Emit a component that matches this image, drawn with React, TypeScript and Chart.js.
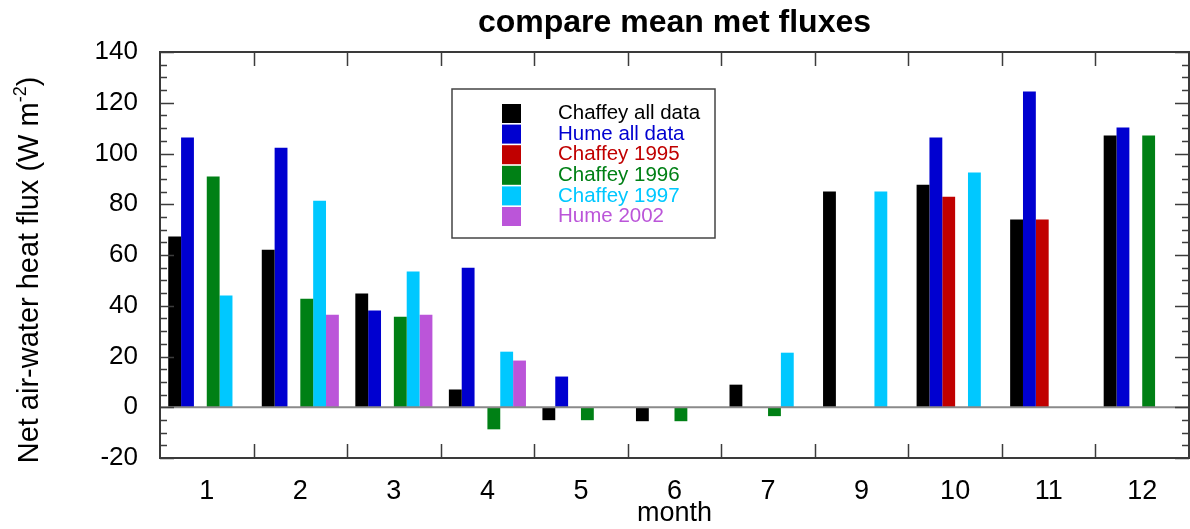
import React, { useEffect, useRef } from "react";
import { Chart, registerables } from "chart.js";

Chart.register(...registerables);

const months = ["1", "2", "3", "4", "5", "6", "7", "9", "10", "11", "12"];
const seriesNames = ["Chaffey all data", "Hume all data", "Chaffey 1995", "Chaffey 1996", "Chaffey 1997", "Hume 2002"];
const seriesColors = ["#000000", "#0000d0", "#c00000", "#008015", "#00c8ff", "#bb55d9"];

const chaffeyAll = [67.3, 62.1, 44.8, 7.0, -5.1, -5.5, 8.9, 85.0, 87.7, 74.0, 107.1];
const humeAll = [106.3, 102.3, 38.1, 55.0, 12.1, null, null, null, 106.3, 124.4, 110.2];
const chaffey1995 = [null, null, null, null, null, null, null, null, 83.0, 74.0, null];
const chaffey1996 = [90.9, 42.8, 35.7, -8.7, -5.1, -5.5, -3.5, null, null, null, 107.1];
const chaffey1997 = [44.0, 81.4, 53.5, 21.9, null, null, 21.5, 85.0, 92.5, null, null];
const hume2002 = [null, 36.5, 36.5, 18.4, null, null, null, null, null, null, null];

const yMin = -20;
const yMax = 140;
const yStep = 20;
const yMinorStep = 5;

const titleText = "compare mean met fluxes";
const xTitle = "month";
const yTitleMain = "Net air-water heat flux (W m";
const yTitleSup = "-2";
const yTitleEnd = ")";

const FONT = "'Liberation Sans', Arial, sans-serif";

const decorPlugin = {
  id: "decor",
  afterDatasetsDraw(chart: any) {
    const { ctx, chartArea } = chart;
    const y = chart.scales.y;
    const x = chart.scales.x;
    const { left, right, top, bottom } = chartArea;
    ctx.save();
    // zero line
    const y0 = y.getPixelForValue(0);
    ctx.strokeStyle = "#8a8a8a";
    ctx.lineWidth = 2;
    ctx.beginPath();
    ctx.moveTo(left, y0);
    ctx.lineTo(right, y0);
    ctx.stroke();

    // y ticks (major + minor) on both sides
    ctx.strokeStyle = "#3c3c3c";
    ctx.lineWidth = 1.5;
    for (let v = yMin; v <= yMax; v += yMinorStep) {
      const py = Math.round(y.getPixelForValue(v)) + 0.5;
      const len = v % yStep === 0 ? 14 : 7;
      ctx.beginPath();
      ctx.moveTo(left, py);
      ctx.lineTo(left + len, py);
      ctx.moveTo(right, py);
      ctx.lineTo(right - len, py);
      ctx.stroke();
    }
    // x ticks at category boundaries, top and bottom
    const n = months.length;
    for (let i = 0; i < n - 1; i++) {
      const px = Math.round((x.getPixelForTick(i) + x.getPixelForTick(i + 1)) / 2) + 0.5;
      ctx.beginPath();
      ctx.moveTo(px, top);
      ctx.lineTo(px, top + 14);
      ctx.moveTo(px, bottom);
      ctx.lineTo(px, bottom - 14);
      ctx.stroke();
    }
    // border
    ctx.strokeStyle = "#3a3a3a";
    ctx.lineWidth = 2;
    ctx.strokeRect(left, top, right - left, bottom - top);

    // legend
    const lx = 452, ly = 89, lw = 263, lh = 149;
    ctx.fillStyle = "#ffffff";
    ctx.fillRect(lx, ly, lw, lh);
    ctx.strokeStyle = "#444444";
    ctx.lineWidth = 1.5;
    ctx.strokeRect(lx, ly, lw, lh);
    ctx.font = `20.5px ${FONT}`;
    ctx.textBaseline = "middle";
    ctx.textAlign = "left";
    for (let i = 0; i < seriesNames.length; i++) {
      const ry = 104 + i * 20.6;
      ctx.fillStyle = seriesColors[i];
      ctx.fillRect(502, ry, 19, 19);
      ctx.fillText(seriesNames[i], 558, ry + 9.5);
    }

    // title
    ctx.fillStyle = "#000";
    ctx.font = `bold 32px ${FONT}`;
    ctx.textAlign = "center";
    ctx.textBaseline = "alphabetic";
    ctx.fillText(titleText, (left + right) / 2, 32);

    // x title
    ctx.font = `27px ${FONT}`;
    ctx.textBaseline = "middle";
    ctx.fillText(xTitle, (left + right) / 2, 514);

    // y title with superscript
    ctx.translate(38, 270);
    ctx.rotate(-Math.PI / 2);
    ctx.textAlign = "left";
    ctx.textBaseline = "alphabetic";
    const mainFont = `29px ${FONT}`;
    const supFont = `18px ${FONT}`;
    ctx.font = mainFont;
    const w1 = ctx.measureText(yTitleMain).width;
    const w3 = ctx.measureText(yTitleEnd).width;
    ctx.font = supFont;
    const w2 = ctx.measureText(yTitleSup).width;
    const total = w1 + w2 + w3;
    let sx = -total / 2;
    ctx.font = mainFont;
    ctx.fillText(yTitleMain, sx, 0);
    sx += w1;
    ctx.font = supFont;
    ctx.fillText(yTitleSup, sx, -12);
    sx += w2;
    ctx.font = mainFont;
    ctx.fillText(yTitleEnd, sx, 0);
    ctx.restore();
  },
};

export default function App() {
  const ref = useRef<HTMLCanvasElement | null>(null);
  useEffect(() => {
    if (!ref.current) return;
    const values = [chaffeyAll, humeAll, chaffey1995, chaffey1996, chaffey1997, hume2002];
    const chart = new Chart(ref.current, {
      type: "bar",
      data: {
        labels: months,
        datasets: seriesNames.map((name, i) => ({
          label: name,
          data: values[i],
          backgroundColor: seriesColors[i],
          borderWidth: 0,
          categoryPercentage: 0.824,
          barPercentage: 1.0,
        })),
      },
      options: {
        responsive: false,
        animation: false,
        layout: { padding: { top: 52, right: 1, left: 0, bottom: 0 } },
        plugins: {
          legend: { display: false },
          title: { display: false },
          tooltip: { enabled: false },
        },
        scales: {
          x: {
            type: "category",
            offset: true,
            grid: { display: false, drawTicks: false },
            border: { display: false },
            ticks: {
              color: "#000",
              font: { family: FONT, size: 27 },
              padding: 17,
              maxRotation: 0,
              autoSkip: false,
            },
            afterFit: (s: any) => {
              s.height = 71;
            },
          },
          y: {
            min: yMin,
            max: yMax,
            grid: { display: false, drawTicks: false },
            border: { display: false },
            ticks: {
              stepSize: yStep,
              color: "#000",
              font: { family: FONT, size: 26 },
              padding: 22,
            },
            afterFit: (s: any) => {
              s.width = 160;
            },
          },
        },
      },
      plugins: [decorPlugin],
    });
    return () => chart.destroy();
  }, []);
  return (
    <div style={{ position: "fixed", left: 0, top: 0, width: 1190, height: 529, background: "#fff" }}>
      <canvas ref={ref} width={1190} height={529} style={{ display: "block" }} />
    </div>
  );
}
